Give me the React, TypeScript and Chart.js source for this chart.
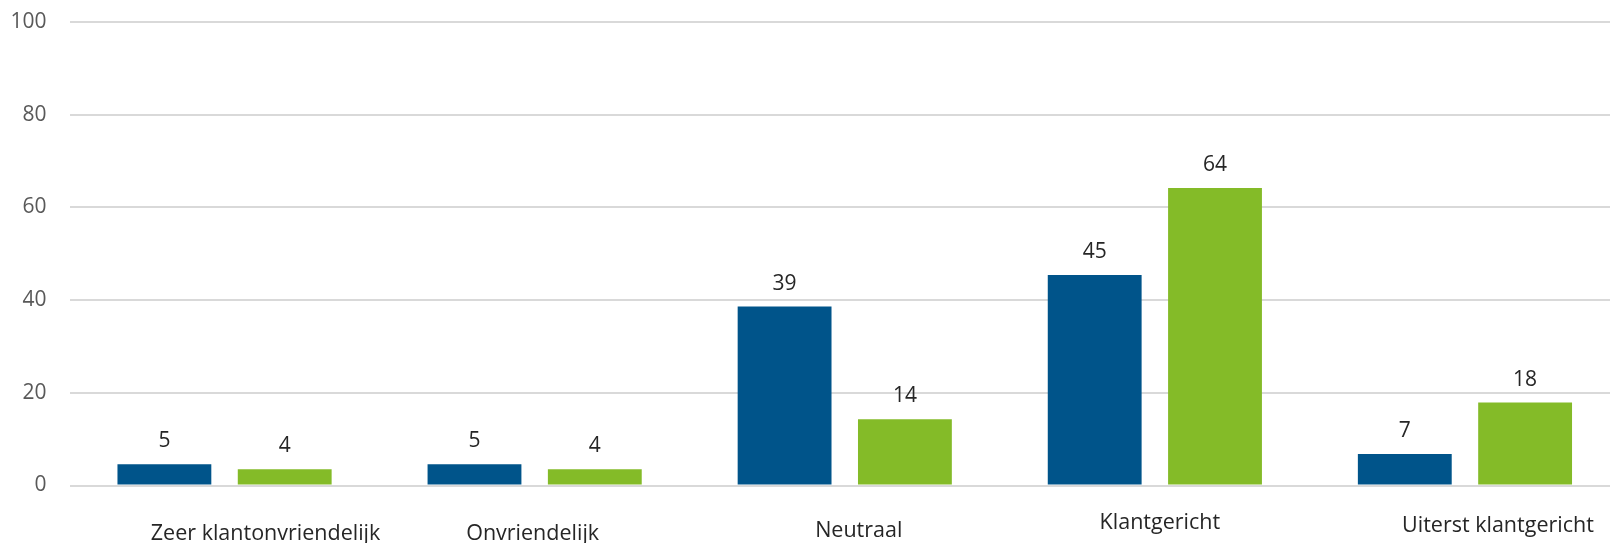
import React, { useEffect, useRef } from "react";
import { Chart, registerables } from "chart.js";

Chart.register(...registerables);

const categories = [
  "Zeer klantonvriendelijk",
  "Onvriendelijk",
  "Neutraal",
  "Klantgericht",
  "Uiterst klantgericht",
];
const seriesBlue = [4.6, 4.6, 38.6, 45.4, 6.8];
const seriesGreen = [3.5, 3.5, 14.3, 64.2, 17.9];
const yTicks = [0, 20, 40, 60, 80, 100];

// layout tweaks for the category labels (horizontal shift, distance below the axis)
const LABEL_DX = [41, -2, 14, 5, 33];
const LABEL_DY = [54.5, 54.5, 51.2, 43.8, 46.5];

const FONT = "'Open Sans', 'Noto Sans', sans-serif";

const valueLabels = {
  id: "valueLabels",
  afterDatasetsDraw(chart: any) {
    const ctx = chart.ctx;
    ctx.save();
    ctx.font = `21px ${FONT}`;
    ctx.fillStyle = "#262626";
    ctx.textAlign = "center";
    ctx.textBaseline = "alphabetic";
    chart.data.datasets.forEach((ds: any, di: number) => {
      const meta = chart.getDatasetMeta(di);
      meta.data.forEach((bar: any, i: number) => {
        const v = ds.data[i];
        ctx.fillText(String(Math.round(v)), bar.x, bar.y - 17);
      });
    });
    ctx.restore();
  },
};

const categoryLabels = {
  id: "categoryLabels",
  afterDraw(chart: any) {
    const ctx = chart.ctx;
    const xs = chart.scales.x;
    const bottom = chart.chartArea.bottom;
    ctx.save();
    ctx.font = `21.5px ${FONT}`;
    ctx.fillStyle = "#262626";
    ctx.textAlign = "center";
    ctx.textBaseline = "alphabetic";
    categories.forEach((c, i) => {
      ctx.fillText(c, xs.getPixelForValue(i) + LABEL_DX[i], bottom + LABEL_DY[i]);
    });
    ctx.restore();
  },
};

export default function App() {
  const ref = useRef<HTMLCanvasElement | null>(null);

  useEffect(() => {
    document.body.style.margin = "0";
    document.body.style.overflow = "hidden";
    const canvas = ref.current;
    if (!canvas) return;
    const chart = new Chart(canvas, {
      type: "bar",
      data: {
        labels: categories,
        datasets: [
          {
            label: "A",
            data: seriesBlue,
            backgroundColor: "#00548a",
            categoryPercentage: 0.776,
            barPercentage: 0.78,
          },
          {
            label: "B",
            data: seriesGreen,
            backgroundColor: "#84bb28",
            categoryPercentage: 0.776,
            barPercentage: 0.78,
          },
        ],
      },
      options: {
        responsive: false,
        animation: false,
        events: [],
        layout: { padding: { top: 22, bottom: 57.5, left: 0, right: 0 } },
        plugins: {
          legend: { display: false },
          tooltip: { enabled: false },
          title: { display: false },
        },
        scales: {
          x: {
            display: false,
          },
          y: {
            min: 0,
            max: 100,
            afterBuildTicks: (s: any) => {
              s.ticks = yTicks.map((v) => ({ value: v }));
            },
            afterFit: (s: any) => {
              s.width = 69.5;
            },
            border: { display: false },
            grid: {
              color: "#d9d9d9",
              lineWidth: 2,
              drawTicks: true,
              tickLength: 23,
              tickColor: "rgba(0,0,0,0)",
            },
            ticks: {
              padding: 0,
              color: "#595959",
              font: { family: FONT, size: 21 },
            },
          },
        },
      },
      plugins: [valueLabels, categoryLabels],
    });
    return () => chart.destroy();
  }, []);

  return (
    <div style={{ width: 1610, height: 543, overflow: "hidden", background: "#fff" }}>
      <canvas ref={ref} width={1620} height={543} style={{ width: 1620, height: 543, display: "block" }} />
    </div>
  );
}
